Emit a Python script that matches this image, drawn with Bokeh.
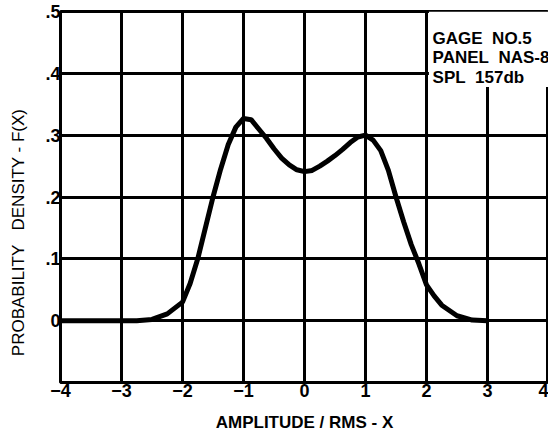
from bokeh.plotting import figure
from bokeh.models import FixedTicker, Range1d
from bokeh.core.properties import value
from bokeh.embed import file_html
from bokeh.resources import INLINE

# values
amplitude = [-4.0, -3.5, -3.0, -2.75, -2.5, -2.25, -2.0, -1.875, -1.75, -1.625,
             -1.5, -1.375, -1.25, -1.125, -1.0, -0.875, -0.75, -0.625, -0.5,
             -0.375, -0.25, -0.125, 0.0, 0.125, 0.25, 0.375, 0.5, 0.625, 0.75,
             0.875, 1.0, 1.125, 1.25, 1.375, 1.5, 1.625, 1.75, 1.875, 2.0,
             2.125, 2.25, 2.5, 2.75, 3.0]
density = [0.0, 0.0, 0.0, 0.0, 0.002, 0.011, 0.03, 0.06, 0.1, 0.15,
           0.2, 0.245, 0.285, 0.313, 0.327, 0.325, 0.31, 0.295, 0.278,
           0.263, 0.252, 0.244, 0.241, 0.243, 0.25, 0.258, 0.267, 0.277, 0.288,
           0.297, 0.300, 0.292, 0.275, 0.243, 0.2, 0.16, 0.123, 0.092, 0.058,
           0.04, 0.025, 0.008, 0.001, 0.0]

x_ticks = [-4, -3, -2, -1, 0, 1, 2, 3, 4]
x_tick_labels = ["\u22124", "\u22123", "\u22122", "\u22121", "0", "1", "2", "3", "4"]
y_ticks = [0, 0.1, 0.2, 0.3, 0.4, 0.5]
y_tick_labels = ["0", ".1", ".2", ".3", ".4", ".5"]
y_grid = [-0.1, 0, 0.1, 0.2, 0.3, 0.4, 0.5]
note_lines = ["GAGE\u00a0\u00a0NO.5", "PANEL\u00a0\u00a0NAS-80", "SPL\u00a0\u00a0157db"]

FONT = "Liberation Sans"

p = figure(width=548, height=439, x_range=Range1d(-4, 4), y_range=Range1d(-0.1, 0.5),
           output_backend="svg", toolbar_location=None,
           min_border_left=60, min_border_right=0, min_border_top=11, min_border_bottom=57)

p.background_fill_color = "white"
p.border_fill_color = "white"
p.outline_line_color = "black"
p.outline_line_width = 3

p.xgrid.ticker = FixedTicker(ticks=x_ticks)
p.ygrid.ticker = FixedTicker(ticks=y_grid)
for g in (p.xgrid, p.ygrid):
    g.grid_line_color = "black"
    g.grid_line_width = 3
    g.grid_line_alpha = 1.0

p.xaxis.ticker = FixedTicker(ticks=x_ticks)
p.xaxis.major_label_overrides = {t: l for t, l in zip(x_ticks, x_tick_labels)}
p.yaxis.ticker = FixedTicker(ticks=y_ticks)
p.yaxis.major_label_overrides = {t: l for t, l in zip(y_ticks, y_tick_labels)}

for ax in (p.xaxis, p.yaxis):
    ax.axis_line_color = None
    ax.major_tick_line_color = None
    ax.minor_tick_line_color = None
    ax.major_tick_in = 0
    ax.major_tick_out = 0
    ax.major_label_text_font = FONT
    ax.major_label_text_font_style = "bold"
    ax.major_label_text_font_size = "18px"
    ax.major_label_text_color = "black"
    ax.axis_label_text_font = FONT
    ax.axis_label_text_font_style = "bold"
    ax.axis_label_text_font_size = "17px"
    ax.axis_label_text_color = "black"

p.xaxis.major_label_standoff = 1
p.yaxis.major_label_standoff = 0
p.xaxis.axis_label = "AMPLITUDE / RMS - X"
p.yaxis.axis_label = "PROBABILITY\u00a0\u00a0\u00a0DENSITY - F(X)" + "\u00a0" * 15
p.xaxis.axis_label_standoff = 13
p.yaxis.axis_label_standoff = 14
p.yaxis.axis_label_text_font_size = "17px"
p.yaxis.axis_label_text_font_style = "normal"

# white label box in the upper right corner
p.quad(left=[2.04], right=[4.0], bottom=[0.378], top=[0.5],
       fill_color="white", line_color=None)
p.text(x=[2.1] * len(note_lines),
       y=[0.457 - 0.032 * i for i in range(len(note_lines))],
       text=note_lines, text_font=value(FONT), text_font_style="bold",
       text_font_size="17px", text_baseline="middle", text_color="black")

p.line(amplitude, density, line_color="black", line_width=5)

open("out.html", "w").write(file_html(p, INLINE))
